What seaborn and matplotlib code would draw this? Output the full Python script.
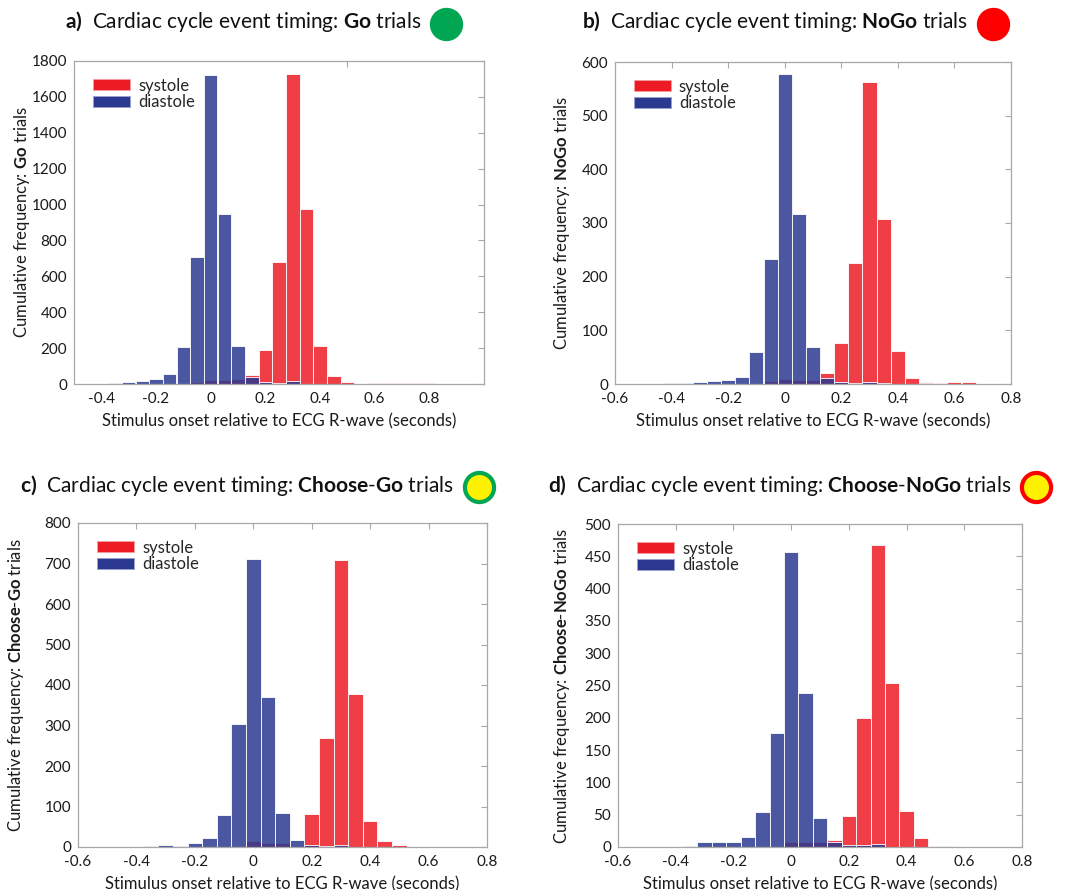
"""Cardiac cycle event timing histograms (systole vs diastole) for four trial types."""

import matplotlib.pyplot as plt
import numpy as np
import pandas as pd
import seaborn as sns
from matplotlib.lines import Line2D
from matplotlib.patches import Patch

# bin centres (seconds relative to ECG R-wave), 0.05 s bins
BIN_CENTERS = [-0.45, -0.40, -0.35, -0.30, -0.25, -0.20, -0.15, -0.10, -0.05, 0.00,
               0.05, 0.10, 0.15, 0.20, 0.25, 0.30, 0.35, 0.40, 0.45, 0.50,
               0.55, 0.60, 0.65, 0.70, 0.75, 0.80, 0.85]

GO_SYSTOLE = [0, 0, 0, 0, 0, 0, 0, 0, 10, 25,
              20, 28, 48, 189, 681, 1725, 978, 213, 43, 10,
              1, 7, 7, 7, 7, 7, 1]
GO_DIASTOLE = [1, 2, 6, 12, 16, 26, 57, 204, 709, 1722,
               948, 211, 39, 11, 7, 18, 1, 0, 0, 0,
               0, 0, 0, 0, 0, 0, 0]

NOGO_SYSTOLE = [0, 0, 0, 0, 0, 0, 0, 0, 6, 9,
                8, 8, 21, 76, 226, 563, 308, 61, 12, 3,
                1, 3, 3, 0, 0, 0, 0]
NOGO_DIASTOLE = [0, 1, 1, 4, 6, 7, 13, 60, 232, 578,
                 316, 69, 12, 4, 2, 4, 1, 0, 0, 1,
                 0, 0, 0, 0, 0, 0, 0]

CGO_SYSTOLE = [0, 0, 0, 0, 0, 0, 0, 0, 0, 15,
               10, 10, 2, 82, 270, 709, 378, 63, 15, 5,
               1, 1, 0, 0, 0, 0, 0]
CGO_DIASTOLE = [0, 0, 2, 6, 3, 11, 23, 80, 303, 712,
                370, 85, 17, 4, 2, 5, 0, 0, 0, 0,
                0, 0, 0, 0, 0, 0, 0]

CNOGO_SYSTOLE = [0, 0, 0, 0, 0, 0, 0, 0, 0, 7,
                 8, 7, 11, 48, 200, 468, 254, 55, 14, 2,
                 1, 0, 0, 0, 0, 0, 0]
CNOGO_DIASTOLE = [0, 0, 1, 8, 8, 8, 16, 54, 176, 456,
                  238, 45, 8, 3, 3, 4, 0, 0, 0, 0,
                  0, 0, 0, 0, 0, 0, 0]

RED = '#ed1c24'
BLUE = '#2b3990'
DISC_RED = '#ff0000'
GREEN = '#00a651'
YELLOW = '#fff200'
SPINE = '#a8a8a8'
FONT = 'Lato'

FIG_W, FIG_H = 1070, 890

# panel layout in pixels: axes box (left, top, right, bottom), title origin, ylabel offset
PANELS = [
    dict(letter='a', trial='Go', sys=GO_SYSTOLE, dia=GO_DIASTOLE,
         box=(74, 61, 484, 384), title_xy=(65, 22), ylab_dx=-42,
         xlim=(-0.5, 1.0), xticks=[-0.4, -0.2, 0, 0.2, 0.4, 0.6, 0.8], odd_ticks=True,
         ymax=1800, ystep=200, face=GREEN, ring=GREEN),
    dict(letter='b', trial='NoGo', sys=NOGO_SYSTOLE, dia=NOGO_DIASTOLE,
         box=(615, 62, 1011, 384), title_xy=(582, 22), ylab_dx=-43,
         xlim=(-0.6, 0.8), xticks=[-0.6, -0.4, -0.2, 0, 0.2, 0.4, 0.6, 0.8], odd_ticks=False,
         ymax=600, ystep=100, face=DISC_RED, ring=DISC_RED),
    dict(letter='c', trial='Choose-Go', sys=CGO_SYSTOLE, dia=CGO_DIASTOLE,
         box=(78, 523, 487, 847), title_xy=(20, 485), ylab_dx=-52,
         xlim=(-0.6, 0.8), xticks=[-0.6, -0.4, -0.2, 0, 0.2, 0.4, 0.6, 0.8], odd_ticks=False,
         ymax=800, ystep=100, face=YELLOW, ring=GREEN),
    dict(letter='d', trial='Choose-NoGo', sys=CNOGO_SYSTOLE, dia=CNOGO_DIASTOLE,
         box=(618, 524, 1022, 847), title_xy=(548, 485), ylab_dx=-46,
         xlim=(-0.6, 0.8), xticks=[-0.6, -0.4, -0.2, 0, 0.2, 0.4, 0.6, 0.8], odd_ticks=False,
         ymax=500, ystep=50, face=YELLOW, ring=DISC_RED),
]


def bold_math(word):
    # bold pieces through mathtext; hyphens kept outside math so they stay hyphens
    return '-'.join(r'$\mathbf{' + part + '}$' for part in word.split('-'))


def fmt_tick(v):
    return '0' if abs(v) < 1e-9 else f'{v:g}'


def draw_panel(fig, p):
    left, top, right, bottom = p['box']
    w, h = right - left, bottom - top
    ax = fig.add_axes([left / FIG_W, 1 - bottom / FIG_H, w / FIG_W, h / FIG_H])

    edges = [c - 0.025 for c in BIN_CENTERS] + [BIN_CENTERS[-1] + 0.025]
    df = pd.DataFrame({'t': BIN_CENTERS, 'sys': p['sys'], 'dia': p['dia']})
    sns.histplot(data=df, x='t', weights='sys', bins=edges, color=RED, alpha=0.85,
                 edgecolor='white', linewidth=0.6, ax=ax)
    sns.histplot(data=df, x='t', weights='dia', bins=edges, color=BLUE, alpha=0.85,
                 edgecolor='white', linewidth=0.6, ax=ax)

    ax.set_xlim(*p['xlim'])
    ax.set_ylim(0, p['ymax'])
    ax.set_yticks(np.arange(0, p['ymax'] + 1, p['ystep']))
    ax.set_xticks(p['xticks'])
    ax.set_xticklabels([fmt_tick(v) for v in p['xticks']])

    for s in ax.spines.values():
        s.set_visible(True)
        s.set_color(SPINE)
        s.set_linewidth(0.9)
    ax.tick_params(direction='in', top=True, right=True, length=4, width=0.8,
                   color=SPINE, labelsize=11, labelcolor='#1a1a1a')
    ax.tick_params(axis='y', pad=5)
    ax.tick_params(axis='x', pad=6)
    if p['odd_ticks']:
        # this panel only carries tick marks at 0 and 0.5
        ax.tick_params(axis='x', length=0)
        ax.set_xticks([0, 0.5], minor=True)
        ax.tick_params(axis='x', which='minor', direction='in', top=True,
                       length=4, width=0.8, color=SPINE)

    ax.set_xlabel('Stimulus onset relative to ECG R-wave (seconds)', fontsize=12,
                  color='#1a1a1a')
    ax.xaxis.set_label_coords(0.5, -29 / h)
    ax.set_ylabel('Cumulative frequency: ' + bold_math(p['trial']) + ' trials',
                  fontsize=12, color='#1a1a1a')
    ax.yaxis.set_label_coords(p['ylab_dx'] / w, 0.5)

    handles = [Patch(facecolor=RED, edgecolor='#f3a0a3', linewidth=0.6, label='systole'),
               Patch(facecolor=BLUE, edgecolor='#9aa1cc', linewidth=0.6, label='diastole')]
    ax.legend(handles=handles, loc='upper left', frameon=False, fontsize=12,
              handlelength=2.2, handleheight=0.65, handletextpad=0.5,
              labelspacing=0.05, borderaxespad=0.5, bbox_to_anchor=(0.01, 0.995))

    tx, ty = p['title_xy']
    title = fig.text(tx / FIG_W, 1 - ty / FIG_H,
                     r'$\mathbf{' + p['letter'] + ')}$  Cardiac cycle event timing: '
                     + bold_math(p['trial']) + ' trials',
                     fontsize=15, color='#111111', ha='left', va='center')
    return ax, title


def main():
    sns.set_theme(style='white')
    plt.rcParams.update({
        'font.family': [FONT, 'DejaVu Sans'],
        'mathtext.fontset': 'custom',
        'mathtext.rm': FONT,
        'mathtext.bf': FONT + ':bold',
    })

    fig = plt.figure(figsize=(FIG_W / 100, FIG_H / 100), dpi=100)
    titles = []
    for p in PANELS:
        _, title = draw_panel(fig, p)
        titles.append((title, p))

    # coloured trial-type disc just after each title
    fig.canvas.draw()
    renderer = fig.canvas.get_renderer()
    for title, p in titles:
        bb = title.get_window_extent(renderer)
        cx = bb.x1 + 10 + 15
        cy = FIG_H - p['title_xy'][1] - 2
        fig.add_artist(Line2D([cx / FIG_W], [cy / FIG_H], transform=fig.transFigure,
                              marker='o', markersize=21, markerfacecolor=p['face'],
                              markeredgecolor=p['ring'], markeredgewidth=3))

    fig.savefig('out.png', dpi=100)
    plt.close(fig)


if __name__ == '__main__':
    main()
